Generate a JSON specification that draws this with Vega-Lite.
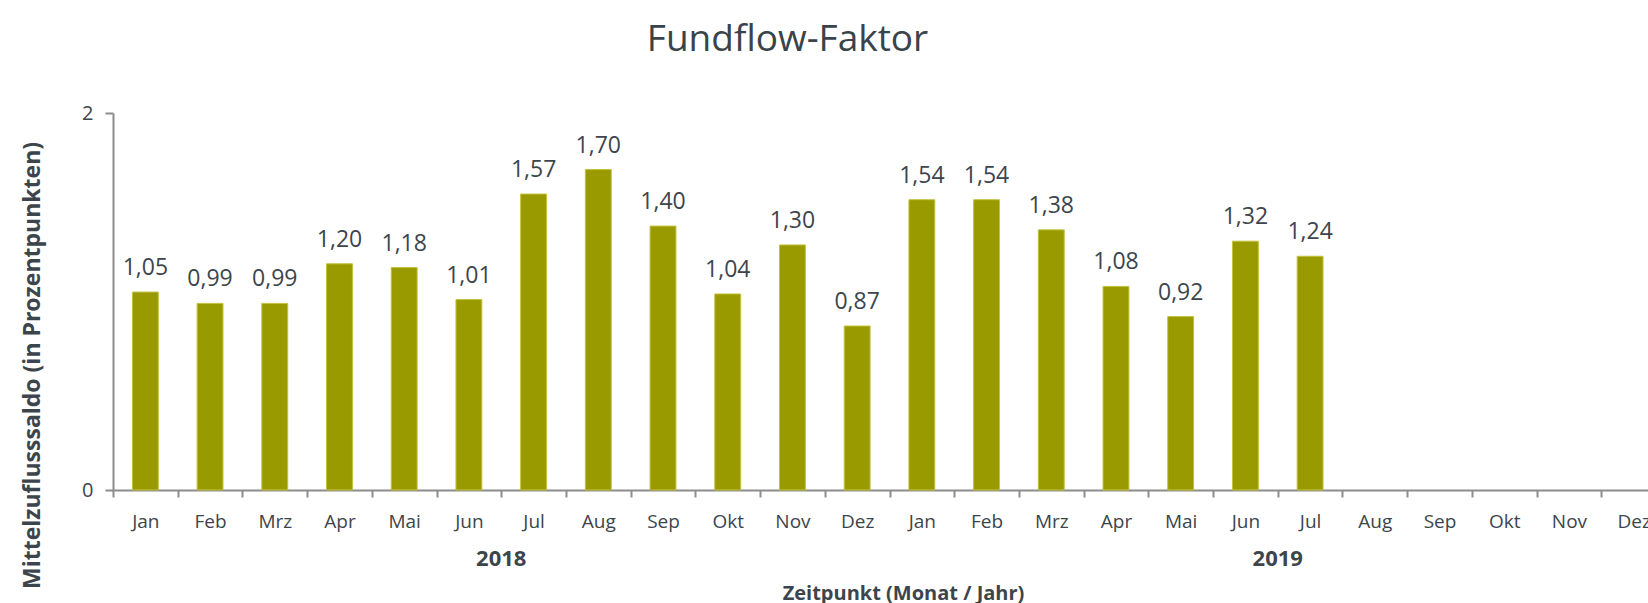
{
  "$schema": "https://vega.github.io/schema/vega-lite/v6.json",
  "autosize": "none",
  "width": 1535,
  "height": 377,
  "padding": {"left": 113, "top": 113, "right": 0, "bottom": 113},
  "background": "white",
  "config": {
    "view": {"stroke": null},
    "font": "Open Sans",
    "locale": {"number": {"decimal": ",", "thousands": ".", "grouping": [3], "currency": ["", " €"]}}
  },
  "title": {
    "text": "Fundflow-Faktor",
    "font": "Open Sans",
    "fontSize": 37,
    "fontWeight": "normal",
    "color": "#3a4349",
    "anchor": "middle",
    "frame": "group",
    "baseline": "alphabetic",
    "dx": -93,
    "offset": 15
  },
  "data": {
    "values": [
      {"key": "2018-01", "value": 1.05},
      {"key": "2018-02", "value": 0.99},
      {"key": "2018-03", "value": 0.99},
      {"key": "2018-04", "value": 1.20},
      {"key": "2018-05", "value": 1.18},
      {"key": "2018-06", "value": 1.01},
      {"key": "2018-07", "value": 1.57},
      {"key": "2018-08", "value": 1.70},
      {"key": "2018-09", "value": 1.40},
      {"key": "2018-10", "value": 1.04},
      {"key": "2018-11", "value": 1.30},
      {"key": "2018-12", "value": 0.87},
      {"key": "2019-01", "value": 1.54},
      {"key": "2019-02", "value": 1.54},
      {"key": "2019-03", "value": 1.38},
      {"key": "2019-04", "value": 1.08},
      {"key": "2019-05", "value": 0.92},
      {"key": "2019-06", "value": 1.32},
      {"key": "2019-07", "value": 1.24}
    ]
  },
  "resolve": {"scale": {"x": "shared", "y": "shared"}, "axis": {"x": "independent"}},
  "layer": [
    {
      "mark": {"type": "bar", "width": {"band": 0.4}, "color": "#999900", "stroke": "#c2c23c", "strokeWidth": 1},
      "encoding": {
        "x": {
          "field": "key",
          "type": "ordinal",
          "scale": {
            "domain": ["2018-01","2018-02","2018-03","2018-04","2018-05","2018-06","2018-07","2018-08","2018-09","2018-10","2018-11","2018-12",
                       "2019-01","2019-02","2019-03","2019-04","2019-05","2019-06","2019-07","2019-08","2019-09","2019-10","2019-11","2019-12"],
            "paddingInner": 0,
            "paddingOuter": 0,
            "range": [0, 1553]
          },
          "axis": {
            "orient": "bottom",
            "title": null,
            "labelAngle": 0,
            "tickBand": "extent",
            "tickSize": 7,
            "tickColor": "#8c8c8c",
            "tickWidth": 2,
            "domainColor": "#8c8c8c",
            "domainWidth": 2,
            "labelFont": "Open Sans",
            "labelFontSize": 19,
            "labelColor": "#3d454c",
            "labelBaseline": "alphabetic",
            "labelPadding": 30,
            "labelExpr": "['Jan','Feb','Mrz','Apr','Mai','Jun','Jul','Aug','Sep','Okt','Nov','Dez'][toNumber(substring(datum.value,5,7))-1]"
          }
        },
        "y": {
          "field": "value",
          "type": "quantitative",
          "scale": {"domain": [0, 2], "nice": false, "zero": true},
          "axis": {
            "values": [0, 1, 2],
            "grid": false,
            "tickSize": 8,
            "tickColor": "#8c8c8c",
            "tickWidth": 2,
            "domainColor": "#8c8c8c",
            "domainWidth": 2,
            "labelFont": "Open Sans",
            "labelFontSize": 20,
            "labelColor": "#3d454c",
            "labelPadding": 12,
            "format": "d",
            "title": "Mittelzuflusssaldo (in Prozentpunkten)",
            "titleFont": "Open Sans",
            "titleFontSize": 23,
            "titleFontWeight": "bold",
            "titleColor": "#3d454c",
            "titleAngle": -90,
            "titleAlign": "center",
            "titleBaseline": "bottom",
            "titleX": -69,
            "titleY": 252
          }
        }
      }
    },
    {
      "mark": {"type": "text", "baseline": "alphabetic", "dy": -17, "fontSize": 23, "font": "Open Sans", "color": "#3d454c"},
      "encoding": {
        "x": {
          "field": "key",
          "type": "ordinal",
          "axis": {
            "orient": "bottom",
            "values": ["2018-07", "2019-07"],
            "ticks": false,
            "domain": false,
            "labelAngle": 0,
            "labelOffset": -32.35,
            "labelFont": "Open Sans",
            "labelFontSize": 22,
            "labelFontWeight": "bold",
            "labelColor": "#3d454c",
            "labelBaseline": "alphabetic",
            "labelPadding": 75,
            "labelExpr": "substring(datum.value,0,4)",
            "title": "Zeitpunkt (Monat / Jahr)",
            "titleFont": "Open Sans",
            "titleFontSize": 20,
            "titleFontWeight": "bold",
            "titleColor": "#3d454c",
            "titleAlign": "center",
            "titleBaseline": "alphabetic",
            "titleX": 790,
            "titleY": 109
          }
        },
        "y": {"field": "value", "type": "quantitative"},
        "text": {"field": "value", "type": "quantitative", "format": ".2f"}
      }
    }
  ]
}
